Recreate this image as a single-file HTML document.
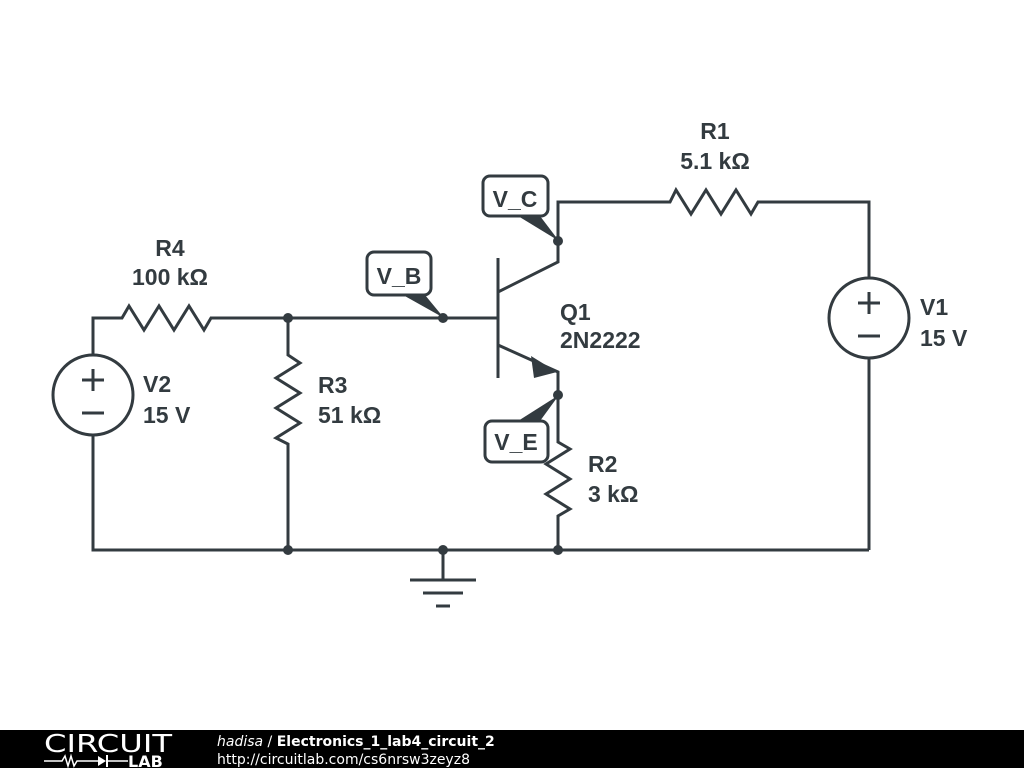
<!DOCTYPE html>
<html><head><meta charset="utf-8"><style>
body{margin:0;width:1024px;height:768px;background:#fff;overflow:hidden}
svg{display:block}
text{font-family:"Liberation Sans",sans-serif;font-weight:bold;fill:#333b40}
text.f{font-family:"DejaVu Sans",sans-serif;fill:#fff}
text.n{font-weight:normal}
</style></head><body>
<svg width="1024" height="768" viewBox="0 0 1024 768">
<g stroke="#333b40" stroke-width="3" fill="none" stroke-linejoin="miter">
<polyline points="93,355 93,318 122,318 129,306 144,330 159,306 174,330 189,306 204,330 211,318 498,318"/>
<polyline points="93,435 93,550 869,550"/>
<polyline points="288,318 288,355 300,363 276,378 300,393 276,408 300,423 276,438 288,444 288,550"/>
<line x1="443" y1="550" x2="443" y2="580"/>
<line x1="410" y1="580" x2="476" y2="580"/>
<line x1="423" y1="593" x2="463" y2="593"/>
<line x1="436" y1="606" x2="450" y2="606"/>
<line x1="498" y1="258" x2="498" y2="378"/>
<polyline points="498,292 558,262 558,202 670,202 676,190 691,214 706,190 721,214 736,190 751,214 758,202 869,202 869,278"/>
<polyline points="498,345 558,372 558,442 570,449 546,464 570,479 546,494 570,509 558,516 558,550"/>
<line x1="869" y1="358" x2="869" y2="550"/>
<circle cx="869" cy="318" r="40"/>
<circle cx="93" cy="395" r="40"/>
<line x1="858" y1="303" x2="880" y2="303"/><line x1="869" y1="292" x2="869" y2="314"/>
<line x1="858" y1="336" x2="880" y2="336"/>
<line x1="82" y1="380" x2="104" y2="380"/><line x1="93" y1="369" x2="93" y2="391"/>
<line x1="82" y1="413" x2="104" y2="413"/>
<rect x="483" y="176" width="65" height="40" rx="7" fill="#fff"/>
<rect x="367" y="252" width="64" height="43" rx="7" fill="#fff"/>
<rect x="485" y="421" width="63" height="41" rx="7" fill="#fff"/>
</g>
<g fill="#333b40">
<polygon points="531,356 557,372 534,378"/>
<polygon points="518,216 540,216 559,241"/>
<polygon points="403,295 425,295 444,318"/>
<polygon points="518,421 540,421 559,395"/>
<circle cx="558" cy="241" r="5"/><circle cx="443" cy="318" r="5"/><circle cx="558" cy="395" r="5"/>
<circle cx="288" cy="318" r="5"/><circle cx="288" cy="550" r="5"/><circle cx="443" cy="550" r="5"/><circle cx="558" cy="550" r="5"/>
</g>
<g font-size="23">
<text x="515" y="207" text-anchor="middle">V_C</text>
<text x="399" y="284" text-anchor="middle">V_B</text>
<text x="516" y="450" text-anchor="middle">V_E</text>
<text x="715" y="139" text-anchor="middle">R1</text>
<text x="715" y="169" text-anchor="middle">5.1 kΩ</text>
<text x="170" y="256" text-anchor="middle">R4</text>
<text x="170" y="285" text-anchor="middle">100 kΩ</text>
<text x="318" y="393">R3</text>
<text x="318" y="423">51 kΩ</text>
<text x="560" y="320">Q1</text>
<text x="560" y="348">2N2222</text>
<text x="920" y="315">V1</text>
<text x="920" y="346">15 V</text>
<text x="143" y="392">V2</text>
<text x="143" y="423">15 V</text>
<text x="588" y="472">R2</text>
<text x="588" y="502">3 kΩ</text>
</g>
<rect x="0" y="730" width="1024" height="38" fill="#000"/>
<text class="f n" x="44" y="752" font-size="25" textLength="128" lengthAdjust="spacingAndGlyphs">CIRCUIT</text>
<polyline points="44,761 62,761 65,756 68,766 71,756 74,766 77,761 98,761" stroke="#fff" stroke-width="1.5" fill="none"/>
<polygon points="98,756 98,766 106,761" fill="#fff"/><line x1="107" y1="755" x2="107" y2="767" stroke="#fff" stroke-width="2"/>
<line x1="107" y1="761" x2="128" y2="761" stroke="#fff" stroke-width="1.5"/>
<text class="f" x="128" y="767" font-size="16">LAB</text>
<text class="f" x="217" y="746" font-size="14"><tspan font-style="italic" style="font-weight:normal">hadisa</tspan><tspan style="font-weight:normal"> / </tspan>Electronics_1_lab4_circuit_2</text>
<text class="f n" x="217" y="764" font-size="14">http://circuitlab.com/cs6nrsw3zeyz8</text>
</svg>
</body></html>
